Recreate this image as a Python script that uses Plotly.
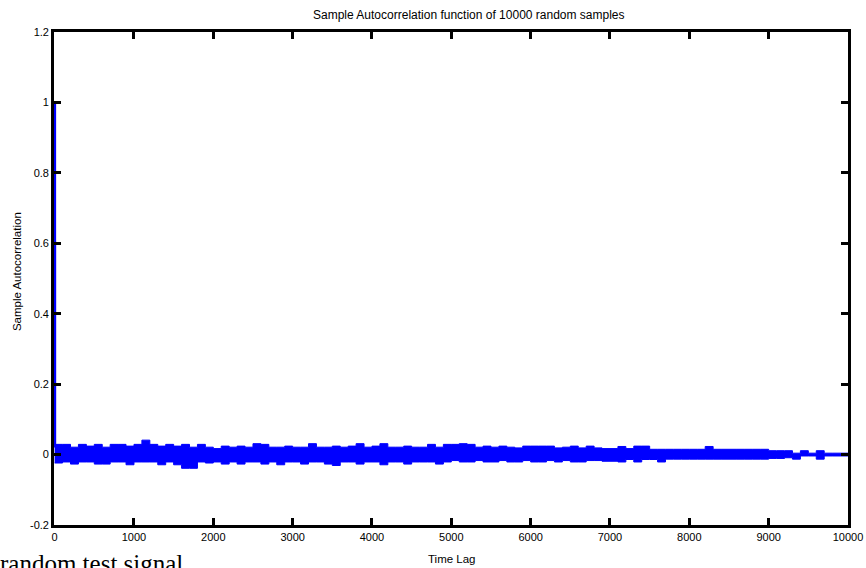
import plotly.graph_objects as go

# ---- data ----
head_lags = [0, 1]
head_vals = [1.0, 0.02]

# envelope of the sample autocorrelation, one value per 100-lag bin (bin start lag)
bin_lags = list(range(0, 10001, 100))
upper = [
    0.029, 0.029, 0.021, 0.029, 0.024, 0.029, 0.021, 0.029, 0.029, 0.024,
    0.029, 0.041, 0.029, 0.024, 0.029, 0.024, 0.029, 0.021, 0.029, 0.021,
    0.017, 0.024, 0.021, 0.024, 0.021, 0.031, 0.029, 0.021, 0.021, 0.024,
    0.021, 0.021, 0.031, 0.021, 0.021, 0.024, 0.021, 0.024, 0.031, 0.021,
    0.024, 0.031, 0.021, 0.021, 0.024, 0.021, 0.021, 0.029, 0.021, 0.029,
    0.029, 0.031, 0.029, 0.021, 0.024, 0.021, 0.024, 0.021, 0.019, 0.024,
    0.024, 0.024, 0.024, 0.019, 0.021, 0.024, 0.019, 0.024, 0.019, 0.017,
    0.017, 0.023, 0.017, 0.024, 0.024, 0.015, 0.015, 0.015, 0.015, 0.015,
    0.015, 0.015, 0.023, 0.015, 0.015, 0.015, 0.015, 0.015, 0.015, 0.015,
    0.011, 0.011, 0.011, 0.004, 0.011, 0.004, 0.011, 0.004, 0.004, 0.004,
    0.004,
]
lower = [
    -0.024, -0.021, -0.027, -0.021, -0.021, -0.027, -0.027, -0.021, -0.021, -0.029,
    -0.021, -0.021, -0.021, -0.029, -0.021, -0.029, -0.039, -0.039, -0.021, -0.024,
    -0.021, -0.027, -0.021, -0.027, -0.021, -0.021, -0.027, -0.021, -0.029, -0.021,
    -0.021, -0.027, -0.021, -0.021, -0.027, -0.031, -0.021, -0.021, -0.027, -0.021,
    -0.021, -0.029, -0.021, -0.021, -0.027, -0.021, -0.021, -0.021, -0.027, -0.021,
    -0.017, -0.021, -0.021, -0.017, -0.021, -0.021, -0.017, -0.021, -0.021, -0.017,
    -0.021, -0.021, -0.017, -0.021, -0.017, -0.021, -0.021, -0.017, -0.017, -0.019,
    -0.019, -0.021, -0.014, -0.021, -0.014, -0.014, -0.021, -0.013, -0.013, -0.013,
    -0.013, -0.013, -0.013, -0.013, -0.013, -0.013, -0.013, -0.013, -0.013, -0.013,
    -0.011, -0.011, -0.009, -0.013, -0.004, -0.004, -0.013, -0.004, -0.004, -0.004,
    -0.004,
]

x_ticks = [0, 1000, 2000, 3000, 4000, 5000, 6000, 7000, 8000, 9000, 10000]
x_tick_text = ["0", "1000", "2000", "3000", "4000", "5000", "6000", "7000", "8000", "9000", "10000"]
y_ticks = [-0.2, 0, 0.2, 0.4, 0.6, 0.8, 1.0, 1.2]
y_tick_text = ["-0.2", "0", "0.2", "0.4", "0.6", "0.8", "1", "1.2"]

title_text = "Sample Autocorrelation function of 10000 random samples"
x_title = "Time Lag"
y_title = "Sample Autocorrelation"
footer_text = "random test signal"

BLUE = "#0000FF"
FONT = "Liberation Sans, Arial, sans-serif"

fig = go.Figure()
fig.add_trace(go.Scatter(x=bin_lags, y=lower, mode="lines", line=dict(color=BLUE, width=1, shape="hv"),
                         hoverinfo="skip", showlegend=False))
fig.add_trace(go.Scatter(x=bin_lags, y=upper, mode="lines", line=dict(color=BLUE, width=1, shape="hv"),
                         fill="tonexty", fillcolor=BLUE, hoverinfo="skip", showlegend=False))
fig.add_trace(go.Scatter(x=head_lags, y=head_vals, mode="lines", line=dict(color=BLUE, width=3),
                         hoverinfo="skip", showlegend=False))

axis_common = dict(
    showline=True, linecolor="black", linewidth=2.7, mirror="ticks",
    ticks="inside", ticklen=7, tickwidth=2.5, tickcolor="black",
    showgrid=False, zeroline=False, automargin=False,
    tickfont=dict(family=FONT, size=11, color="black"),
)

fig.update_xaxes(range=[-8, 10000], tickvals=x_ticks, ticktext=x_tick_text, **axis_common)
fig.update_yaxes(range=[-0.2, 1.2], tickvals=y_ticks, ticktext=y_tick_text, **axis_common)

fig.update_layout(
    width=866, height=568, autosize=False,
    margin=dict(l=54, r=18, t=32, b=43, pad=0),
    paper_bgcolor="white", plot_bgcolor="white",
    showlegend=False,
    annotations=[
        dict(text=title_text, xref="paper", yref="paper", x=0.5227, y=1.0345,
             xanchor="center", yanchor="middle", showarrow=False,
             font=dict(family=FONT, size=12, color="black")),
        dict(text=x_title, xref="paper", yref="paper", x=0.501, y=-0.069,
             xanchor="center", yanchor="middle", showarrow=False,
             font=dict(family=FONT, size=11.5, color="black")),
        dict(text=y_title, xref="paper", yref="paper", x=-0.0466, y=0.515,
             xanchor="center", yanchor="middle", showarrow=False, textangle=-90,
             font=dict(family=FONT, size=11.5, color="black")),
        dict(text=footer_text, xref="paper", yref="paper", x=-0.07, y=-0.046,
             xanchor="left", yanchor="top", showarrow=False,
             font=dict(family="Liberation Serif, Times New Roman, serif", size=25, color="black")),
    ],
)

fig.write_html(
    "out.html",
    config={"responsive": False, "displayModeBar": False},
    post_script="document.body.style.margin='0';document.body.style.overflow='hidden';",
)
